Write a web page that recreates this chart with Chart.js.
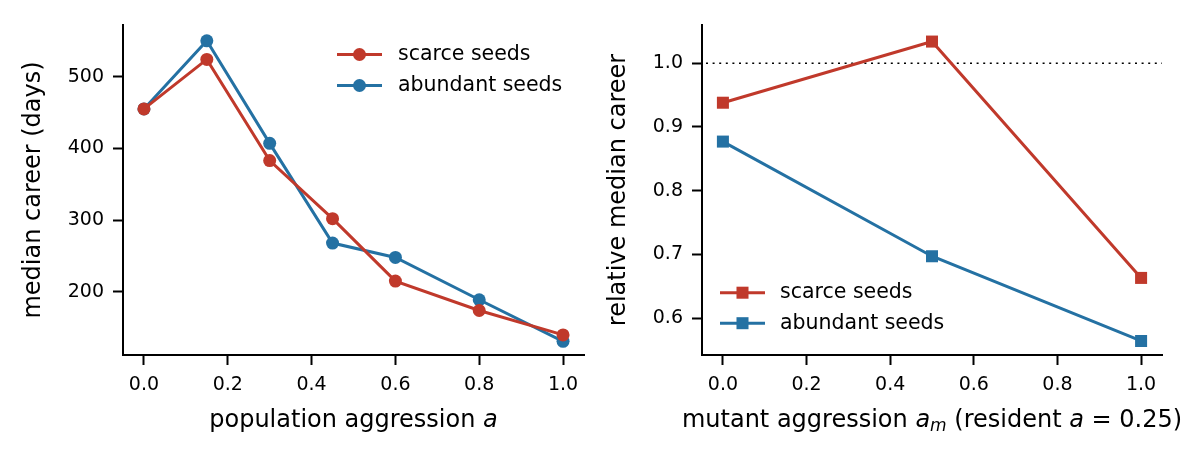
<!DOCTYPE html>
<html>
<head>
<meta charset="utf-8">
<script src="https://cdn.jsdelivr.net/npm/chart.js@4.4.0/dist/chart.umd.min.js"></script>
<style>
  html, body { margin: 0; padding: 0; background: #fff; }
  #wrap { position: relative; width: 1188px; height: 462px; }
  .box { position: absolute; top: 0; height: 462px; }
</style>
</head>
<body>
<div id="wrap">
  <div class="box" style="left:0;width:600px"><canvas id="left" width="600" height="462"></canvas></div>
  <div class="box" style="left:600px;width:588px"><canvas id="right" width="588" height="462"></canvas></div>
</div>
<script>
// values
const popAggression = [0, 0.15, 0.3, 0.45, 0.6, 0.8, 1.0];
const careerScarce = [455, 524, 383, 302, 215, 174, 140];
const careerAbundant = [455, 550, 407, 268, 248, 189, 131];

const mutantAggression = [0, 0.5, 1.0];
const relScarce = [0.938, 1.034, 0.663];
const relAbundant = [0.877, 0.697, 0.564];

const xTicks = [0, 0.2, 0.4, 0.6, 0.8, 1.0];
const careerTicks = [200, 300, 400, 500];
const relTicks = [0.6, 0.7, 0.8, 0.9, 1.0];
const seriesNames = ['scarce seeds', 'abundant seeds'];

const RED = '#c0392b';
const BLUE = '#2471a3';
const FONT = 'DejaVu Sans';

const pts = (xs, ys) => xs.map((x, i) => ({ x: x, y: ys[i] }));

function series(label, color, data, style, radius) {
  return {
    label: label,
    data: data,
    borderColor: color,
    backgroundColor: color,
    borderWidth: 3,
    pointStyle: style,
    pointRadius: radius,
    pointHoverRadius: radius,
    pointBackgroundColor: color,
    pointBorderWidth: 0,
    tension: 0,
    clip: false
  };
}

function axis(ticks, min, max, fmt, fit) {
  return {
    type: 'linear',
    min: min,
    max: max,
    afterBuildTicks: s => { s.ticks = ticks.map(v => ({ value: v })); },
    afterFit: fit,
    border: { display: true, color: '#000', width: 2 },
    grid: {
      display: true, drawOnChartArea: false, drawTicks: true,
      tickLength: 10, tickWidth: 2, tickColor: '#000'
    },
    ticks: {
      color: '#000', font: { family: FONT, size: 19 }, padding: 9,
      autoSkip: false, maxRotation: 0, callback: fmt
    }
  };
}

// legend drawn inside the plot area
const inlineLegend = {
  id: 'inlineLegend',
  afterDraw(chart, args, o) {
    const ctx = chart.ctx;
    chart.data.datasets.forEach((ds, i) => {
      const y = o.y + i * o.gap;
      const mx = o.x + o.len / 2;
      ctx.save();
      ctx.strokeStyle = ds.borderColor;
      ctx.lineWidth = ds.borderWidth;
      ctx.beginPath();
      ctx.moveTo(o.x, y);
      ctx.lineTo(o.x + o.len, y);
      ctx.stroke();
      ctx.fillStyle = ds.borderColor;
      ctx.beginPath();
      if (ds.pointStyle === 'rect') {
        const h = Math.SQRT1_2 * ds.pointRadius;
        ctx.rect(mx - h, y - h, 2 * h, 2 * h);
      } else {
        ctx.arc(mx, y, ds.pointRadius, 0, Math.PI * 2);
      }
      ctx.fill();
      ctx.fillStyle = '#000';
      ctx.font = '20.5px "' + FONT + '"';
      ctx.textBaseline = 'middle';
      ctx.textAlign = 'left';
      ctx.fillText(ds.label, o.textX, y);
      ctx.restore();
    });
  }
};

// axis titles with italic / subscript parts
const axisTitles = {
  id: 'axisTitles',
  afterDraw(chart, args, o) {
    const ctx = chart.ctx;
    const area = chart.chartArea;
    ctx.save();
    ctx.fillStyle = '#000';
    ctx.textBaseline = 'middle';
    // y title
    ctx.save();
    ctx.translate(o.yX, (area.top + area.bottom) / 2);
    ctx.rotate(-Math.PI / 2);
    ctx.textAlign = 'center';
    ctx.font = '24px "' + FONT + '"';
    ctx.fillText(o.yText, 0, 0);
    ctx.restore();
    // x title
    const fontOf = p => (p.italic ? 'oblique ' : '') + (p.sub ? 17 : 24) + 'px "' + FONT + '"';
    let total = 0;
    o.xParts.forEach(p => { ctx.font = fontOf(p); total += ctx.measureText(p.t).width; });
    let x = (area.left + area.right) / 2 - total / 2;
    ctx.textAlign = 'left';
    o.xParts.forEach(p => {
      ctx.font = fontOf(p);
      ctx.fillText(p.t, x, o.xY + (p.sub ? 6 : 0));
      x += ctx.measureText(p.t).width;
    });
    ctx.restore();
  }
};

// dotted reference line at y = 1
const refLine = {
  id: 'refLine',
  beforeDatasetsDraw(chart, args, o) {
    const ctx = chart.ctx;
    const y = chart.scales.y.getPixelForValue(o.value);
    ctx.save();
    ctx.strokeStyle = '#000';
    ctx.lineWidth = 1.6;
    ctx.setLineDash([2, 4.6]);
    ctx.beginPath();
    ctx.moveTo(chart.chartArea.left + 4, y);
    ctx.lineTo(chart.chartArea.right, y);
    ctx.stroke();
    ctx.restore();
  }
};

const base = {
  responsive: false,
  animation: false,
  events: [],
  plugins: { legend: { display: false }, tooltip: { enabled: false } }
};

new Chart(document.getElementById('left'), {
  type: 'line',
  data: {
    datasets: [
      series(seriesNames[0], RED, pts(popAggression, careerScarce), 'circle', 6.5),
      series(seriesNames[1], BLUE, pts(popAggression, careerAbundant), 'circle', 6.5)
    ]
  },
  options: Object.assign({}, base, {
    layout: { padding: { top: 25, right: 16, left: 0, bottom: 0 } },
    scales: {
      x: axis(xTicks, -0.05, 1.05, v => v.toFixed(1), s => { s.height = 107; }),
      y: axis(careerTicks, 112, 572, v => String(v), s => { s.width = 123; })
    },
    plugins: Object.assign({}, base.plugins, {
      inlineLegend: { x: 337, len: 45, textX: 398, y: 54.5, gap: 31 },
      axisTitles: {
        yX: 34, yText: 'median career (days)', xY: 421,
        xParts: [{ t: 'population aggression ' }, { t: 'a', italic: true }]
      }
    })
  }),
  plugins: [inlineLegend, axisTitles]
});

new Chart(document.getElementById('right'), {
  type: 'line',
  data: {
    datasets: [
      series(seriesNames[0], RED, pts(mutantAggression, relScarce), 'rect', 8.5),
      series(seriesNames[1], BLUE, pts(mutantAggression, relAbundant), 'rect', 8.5)
    ]
  },
  options: Object.assign({}, base, {
    layout: { padding: { top: 25, right: 26, left: 0, bottom: 0 } },
    scales: {
      x: axis(xTicks, -0.05, 1.05, v => v.toFixed(1), s => { s.height = 107; }),
      y: axis(relTicks, 0.542, 1.06, v => v.toFixed(1), s => { s.width = 102; })
    },
    plugins: Object.assign({}, base.plugins, {
      refLine: { value: 1.0 },
      inlineLegend: { x: 120, len: 45, textX: 180, y: 292.7, gap: 30.5 },
      axisTitles: {
        yX: 19, yText: 'relative median career', xY: 421,
        xParts: [
          { t: 'mutant aggression ' }, { t: 'a', italic: true }, { t: 'm', italic: true, sub: true },
          { t: ' (resident ' }, { t: 'a', italic: true }, { t: ' = 0.25)' }
        ]
      }
    })
  }),
  plugins: [refLine, inlineLegend, axisTitles]
});
</script>
</body>
</html>
